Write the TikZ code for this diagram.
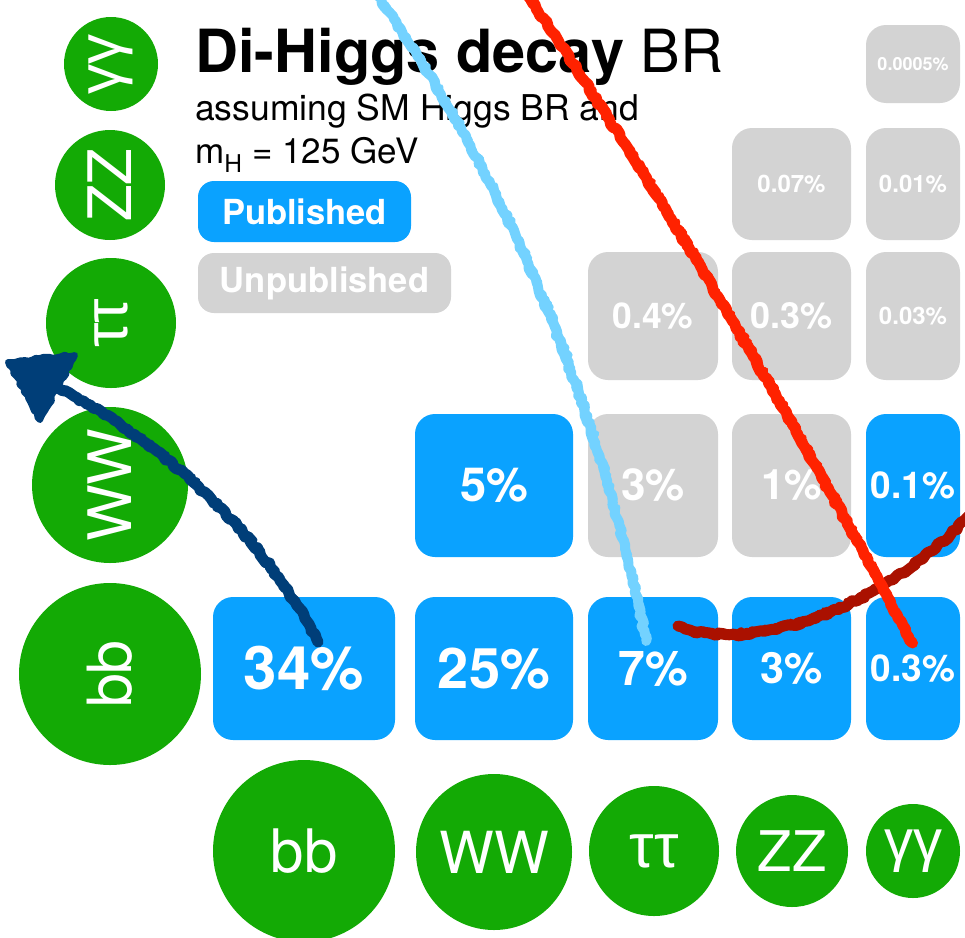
\documentclass[tikz,border=0pt]{standalone}
\usepackage{fontspec}
\setmainfont{TeX Gyre Heros}
\newfontfamily\greekf{Liberation Sans}
\usetikzlibrary{decorations.pathmorphing}
\definecolor{hgreen}{HTML}{13AA05}
\definecolor{hblue}{HTML}{0AA2FF}
\definecolor{hgray}{HTML}{D3D3D3}
\definecolor{sdblue}{HTML}{003E78}
\definecolor{slblue}{HTML}{73D2FF}
\definecolor{sred}{HTML}{FF2200}
\definecolor{sdred}{HTML}{AA1100}
\newcommand{\fs}[1]{\fontsize{#1pt}{#1pt}\selectfont}
\begin{document}
\begin{tikzpicture}[x=1pt,y=-1pt,
  cell/.style={rectangle, rounded corners=20pt, inner sep=0pt, text=white, font=\bfseries},
  pub/.style={cell, fill=hblue},
  unp/.style={cell, fill=hgray},
  chan/.style={circle, fill=hgreen, text=white, inner sep=0pt},
  leg/.style={rectangle, rounded corners=16pt, inner sep=0pt, text=white, font=\bfseries\fs{34.5}},
  rough/.style={decorate, decoration={random steps, segment length=4pt, amplitude=1.5pt}, line cap=round, line join=round},
  roughb/.style={decorate, decoration={random steps, segment length=2.5pt, amplitude=2.5pt}, line cap=round, line join=round},
]
\useasboundingbox (0,0) rectangle (965,937);

% title and legend
\node[anchor=base west, inner sep=0pt] (title) at (195,72) {\fs{59.5}\textbf{Di-Higgs decay} BR};
\node[anchor=base west, inner sep=0pt] (sub1) at (195,120) {\fs{35.5}assuming SM Higgs BR and};
\node[anchor=base west, inner sep=0pt] (sub2) at (195,163) {\fs{35}m\textsubscript{H} = 125 GeV};
\node[leg, fill=hblue, minimum width=213pt, minimum height=61pt] (legpub) at (304.5,211.5) {Published};
\node[leg, fill=hgray, minimum width=253pt, minimum height=60pt] (legunp) at (324.5,283) {Unpublished};

% left channel circles
\node[chan, minimum size=94pt, rotate=90] (Lgg) at (111,64) {\greekf\fs{60}γγ};
\node[chan, minimum size=110pt, rotate=90] (LZZ) at (110,185) {\fs{60}ZZ};
\node[chan, minimum size=130pt, rotate=90] (Ltt) at (111,323) {\greekf\fs{62}ττ};
\node[chan, minimum size=156pt, rotate=90] (LWW) at (110,485) {\fs{60}WW};
\node[chan, minimum size=182pt, rotate=90] (Lbb) at (110,674) {\fs{61}bb};

% bottom channel circles
\node[chan, minimum size=182pt] (Bbb) at (304,851) {\fs{60}bb};
\node[chan, minimum size=156pt] (BWW) at (494,852) {\fs{58}WW};
\node[chan, minimum size=130pt] (Btt) at (654,851) {\greekf\fs{62}ττ};
\node[chan, minimum size=112pt] (BZZ) at (792,851) {\fs{56}ZZ};
\node[chan, minimum size=94pt] (Bgg) at (913,851) {\greekf\fs{58}γγ};

% bb row
\node[pub, minimum width=182pt, minimum height=143pt] (bbbb) at (304,668.5) {\fs{60}34\%};
\node[pub, minimum width=158pt, minimum height=143pt] (bbWW) at (494,668.5) {\fs{56}25\%};
\node[pub, minimum width=130pt, minimum height=143pt] (bbtt) at (653,668.5) {\fs{48}7\%};
\node[pub, minimum width=119pt, minimum height=143pt] (bbZZ) at (791.5,668.5) {\fs{43}3\%};
\node[pub, minimum width=94pt, minimum height=143pt] (bbgg) at (913,668.5) {\fs{37}0.3\%};
% WW row
\node[pub, minimum width=158pt, minimum height=143pt] (WWWW) at (494,485.5) {\fs{47}5\%};
\node[unp, minimum width=130pt, minimum height=143pt] (WWtt) at (653,485.5) {\fs{44}3\%};
\node[unp, minimum width=119pt, minimum height=143pt] (WWZZ) at (791.5,485.5) {\fs{42}1\%};
\node[pub, minimum width=94pt, minimum height=143pt] (WWgg) at (913,485.5) {\fs{37}0.1\%};
% tautau row
\node[unp, minimum width=130pt, minimum height=128pt] (tttt) at (653,316) {\fs{35.5}0.4\%};
\node[unp, minimum width=119pt, minimum height=128pt] (ttZZ) at (791.5,316) {\fs{36}0.3\%};
\node[unp, minimum width=94pt, minimum height=128pt] (ttgg) at (913,316) {\fs{24}0.03\%};
% ZZ row
\node[unp, minimum width=119pt, minimum height=112pt] (ZZZZ) at (791.5,184) {\fs{24}0.07\%};
\node[unp, minimum width=94pt, minimum height=112pt] (ZZgg) at (913,184) {\fs{24}0.01\%};
% gamma gamma row
\node[unp, minimum width=94pt, minimum height=78pt] (gggg) at (913,64) {\fs{18}0.0005\%};

% hand-drawn strokes
\coordinate (lbA) at (378,-4);
\coordinate (lbB) at (646,640);
\coordinate (rdA) at (528,-4);
\coordinate (rdB) at (912,642);
\coordinate (drA) at (678,626);
\coordinate (drB) at (970,515);
\coordinate (abA) at (318,642);
\coordinate (abB) at (58,388);
\coordinate (tipA) at (8,362);
\coordinate (tipB) at (75,355);
\coordinate (tipC) at (40,420);

\draw[slblue, line width=10pt, rough] (lbA) .. controls (520,200) and (600,420) .. (lbB);
\draw[slblue, line width=6pt, roughb] (lbA) .. controls (523,200) and (603,420) .. (lbB);

\draw[sdred, line width=11pt, rough] (drA) .. controls (740,652) and (870,620) .. (drB);
\draw[sdred, line width=6pt, roughb] (drA) .. controls (742,649) and (872,617) .. (drB);

\draw[sred, line width=11pt, rough] (rdA) .. controls (680,220) and (820,470) .. (rdB);
\draw[sred, line width=6pt, roughb] (rdA) .. controls (683,220) and (823,470) .. (rdB);

\draw[sdblue, line width=11pt, rough] (abA) .. controls (260,530) and (160,440) .. (abB);
\draw[sdblue, line width=6pt, roughb] (abA) .. controls (263,530) and (163,440) .. (abB);
\filldraw[sdblue, line width=6pt, rough] (tipA) -- (tipB) -- (tipC) -- cycle;
\end{tikzpicture}
\end{document}
